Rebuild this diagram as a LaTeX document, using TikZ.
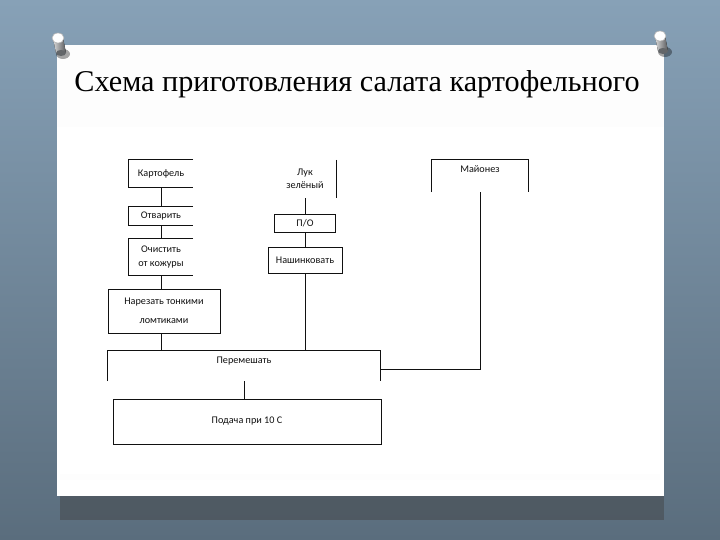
\documentclass[tikz,border=0pt]{standalone}
\usepackage{fontspec}
\setmainfont{Liberation Serif}
\newfontfamily\boxfont{Carlito}
\usetikzlibrary{positioning}
\definecolor{wall}{HTML}{87A1B7}
\definecolor{wallmid}{HTML}{7D96AB}
\definecolor{walldark}{HTML}{5A6D7D}
\definecolor{band}{HTML}{FDFDFD}
\definecolor{ink}{HTML}{111111}
\definecolor{pin}{HTML}{8E9296}
\tikzset{
  edge/.style={draw=ink, line width=0.9pt},
  txt/.style={font=\boxfont\fontsize{10.2}{13.5}\selectfont, text=ink, align=center, inner sep=0pt},
  box/.style={txt, edge},
  title/.style={font=\fontsize{30.2}{32}\selectfont, text=black, anchor=base},
}
\begin{document}
\begin{tikzpicture}[x=1pt, y=-1pt]
  \useasboundingbox (0,0) rectangle (720,540);
  % wall and paper
  \shade[top color=wall, middle color=wallmid, bottom color=walldark] (0,0) rectangle (720,540);
  \fill[black!75, opacity=0.45] (60,494) rectangle (664,520);
  \fill[white] (57,45) rectangle (664,496);
  \fill[band] (57,45) rectangle (664,127);
  \fill[band] (60,474) rectangle (660,480);
  % pins
  \foreach \px/\py in {58/38, 660/36} {
    \fill[black, opacity=0.35] (\px+5,\py+16) ellipse (7pt and 5pt);
    \fill[left color=gray!30, right color=pin!60!black] (\px-5,\py) -- (\px+5,\py) -- (\px+8,\py+15) -- (\px-2,\py+15) -- cycle;
    \fill[pin!70!black] (\px+3,\py+15) ellipse (5pt and 3pt);
    \fill[white] (\px,\py) ellipse (6pt and 5pt);
    \draw[gray!60, line width=0.6pt] (\px,\py) ellipse (6pt and 5pt);
  }
  \node[title] (ttl) at (357,92) {Схема приготовления салата картофельного};

  % potato column
  \node[txt, minimum width=64pt, minimum height=27pt] (kart) at (161,173.5) {Картофель};
  \node[txt, minimum width=64pt, minimum height=18pt] (otv) at (161,216) {Отварить};
  \node[txt, minimum width=64pt, minimum height=36pt] (och) at (161,257) {Очистить\\от кожуры};
  \node[box, minimum width=112pt, minimum height=44pt] (nar) at (164,311) {Нарезать тонкими\\[5pt]ломтиками};
  \draw[edge] (kart.north east) -- (kart.north west) -- (kart.south west) -- (kart.south east);
  \draw[edge] (otv.north east) -- (otv.north west) -- (otv.south west) -- (otv.south east);
  \draw[edge] (och.north east) -- (och.north west) -- (och.south west) -- (och.south east);

  % onion column
  \node[txt, minimum width=62pt, minimum height=38pt] (luk) at (305,179) {Лук\\зелёный};
  \node[box, minimum width=61pt, minimum height=18pt] (po) at (305,223) {П/О};
  \node[box, minimum width=74pt, minimum height=26pt] (nash) at (305,260) {Нашинковать};
  \draw[edge] (luk.north east) -- (luk.south east);

  % mayonnaise
  \node[txt, minimum width=96pt, text height=13pt, text depth=19pt] (may) at (480,176) {Майонез};
  \draw[edge] (may.south west) -- (may.north west) -- (may.north east) -- (may.south east);

  % mixing and serving
  \node[txt, minimum width=272pt, text height=12pt, text depth=18pt] (per) at (244,366) {Перемешать};
  \draw[edge] (per.south west) -- (per.north west) -- (per.north east) -- (per.south east);
  \node[box, minimum width=268pt, minimum height=45pt] (pod) at (247,421.5) {Подача при 10 С};

  % connectors
  \draw[edge] (kart.south) -- (otv.north);
  \draw[edge] (otv.south) -- (och.north);
  \draw[edge] (och.south) -- (och.south |- nar.north);
  \draw[edge] (och.south |- nar.south) -- (och.south |- per.north);
  \draw[edge] (luk.south) -- (po.north);
  \draw[edge] (po.south) -- (nash.north);
  \draw[edge] (nash.south) -- (nash.south |- per.north);
  \draw[edge] (may.south) |- ([yshift=-3pt]per.east);
  \draw[edge] (per.south) -- (per.south |- pod.north);
\end{tikzpicture}
\end{document}
